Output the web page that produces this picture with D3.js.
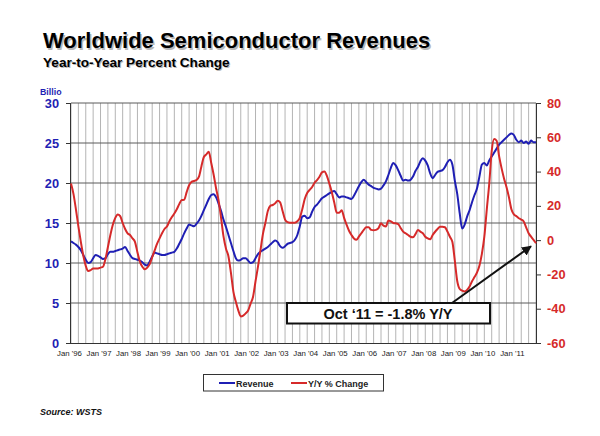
<!DOCTYPE html>
<html><head><meta charset="utf-8">
<script src="https://cdn.jsdelivr.net/npm/d3@7"></script>
<style>
html,body{margin:0;padding:0;background:#fff;}
svg{display:block;font-family:"Liberation Sans",Arial,sans-serif;}
</style></head>
<body>
<svg id="chart" width="600" height="436"></svg>
<script>
// ---------------- data ----------------
const startYear = 1996;
const monthsCount = 190; // Jan '96 .. Oct '11
const xTickLabels = ["Jan '96","Jan '97","Jan '98","Jan '99","Jan '00","Jan '01","Jan '02","Jan '03","Jan '04","Jan '05","Jan '06","Jan '07","Jan '08","Jan '09","Jan '10","Jan '11"];
const leftTicks = [0,5,10,15,20,25,30];
const rightTicks = [-60,-40,-20,0,20,40,60,80];
// Revenue, billions of $ (monthly)
const revenue = [
12.7,12.5,12.3,12.0,11.6,11.0,10.4,10.0,10.1,10.6,11.0,10.9,
10.7,10.5,10.6,11.1,11.4,11.4,11.5,11.6,11.7,11.8,12.0,11.5,
11.0,10.6,10.5,10.4,10.3,10.1,9.8,9.7,10.2,10.8,11.3,11.2,
11.1,11.0,11.0,11.1,11.2,11.3,11.4,11.8,12.4,13.0,13.7,14.3,
14.8,14.7,14.6,14.9,15.3,15.9,16.6,17.3,18.0,18.5,18.6,18.2,
17.4,16.5,15.4,14.5,13.5,12.5,11.5,10.6,10.3,10.4,10.6,10.6,
10.3,10.0,10.1,10.6,11.1,11.4,11.6,11.8,12.0,12.3,12.6,12.8,
12.6,12.1,11.9,12.1,12.4,12.5,12.6,12.9,13.5,14.6,15.8,15.9,
15.6,15.7,16.4,17.0,17.3,17.7,18.1,18.3,18.5,18.7,18.9,19.0,
18.6,18.2,18.3,18.3,18.2,18.1,18.0,18.4,19.0,19.6,20.1,20.4,
20.1,19.8,19.6,19.4,19.3,19.2,19.3,19.7,20.2,21.0,21.9,22.5,
22.2,21.6,20.9,20.3,20.4,20.3,20.4,20.8,21.5,22.0,22.7,23.1,
22.8,22.2,21.2,20.6,21.0,21.4,21.5,21.6,22.0,22.6,22.9,22.3,
20.3,18.6,16.2,14.3,14.8,15.8,16.6,17.6,18.5,19.3,20.8,22.3,
22.5,22.2,22.8,23.3,23.8,24.3,24.8,25.1,25.4,25.7,26.0,26.2,
26.0,25.4,25.1,25.3,25.0,25.2,24.9,25.3,25.1,25.1
];
// Year-to-year % change (monthly)
const yoyChange = [
33,27,18,8,-1,-9,-15,-18,-17.5,-16.5,-16.5,-16.5,
-16,-15.5,-11,-4,3,9,13,15,14,10,6.5,4,
3,1,-1,-7,-12.5,-15.5,-17,-16,-14,-10,-6,-2,
1,4,6.5,8,11,13.5,15.5,18,21,23.4,23.5,28,
32,34,34.5,35.1,37,43,48.5,50,51.6,45,38,30,
23,13,2,-5,-9.5,-19,-30,-36,-41,-44.5,-44,-42.7,
-41,-37,-33,-24,-15.5,-6,3.5,10,17,20,20.5,21.5,
23,22,17,12,10.5,10.2,10.2,10.2,11,13,18,24,
27.5,29.3,31,33.5,35,37,39.5,40,37.5,33,28,22,
16,16,17.5,13,9,5.5,3,1,0.2,2,4,6,
7.5,7.5,6,5.8,6,7,9.8,8.5,8,11.5,11,10,
9.8,9.4,7,5,4,3,2,1.7,3.5,5.9,5,4,
2,1,0.5,3,4.9,6.5,7.8,7.8,7.5,5,2,-1,
-12,-24,-28.5,-29.5,-30,-29,-27,-24,-21.5,-19,-15,-8,
2,18,33,52,59,58,49,42,36,31,25,18,
15,14,12.8,12,10.9,7.5,4,2,0.1,-1.8
];
const seriesNames = ["Revenue","Y/Y % Change"];
const titleText = "Worldwide Semiconductor Revenues";
const subtitleText = "Year-to-Year Percent Change";
const annotationText = "Oct \u201811 = -1.8% Y/Y";

// ---------------- layout ----------------
const svg = d3.select("#chart");
const L = 71, R = 536, T = 103, B = 343;
const blue = "#1f1fb4", red = "#d62a2a";
const x = d3.scaleLinear().domain([0, monthsCount - 1]).range([L, R]);
const yL = d3.scaleLinear().domain([0, 30]).range([B, T]);
const yR = d3.scaleLinear().domain([-60, 80]).range([B, T]);

// title with shadow
const tg = svg.append("g");
[[1.5,1.5,"#b8b8b8"],[0,0,"#000"]].forEach(([dx,dy,c])=>{
  tg.append("text").attr("x",43+dx).attr("y",48+dy).attr("font-size",22).attr("font-weight","bold").attr("fill",c).text(titleText);
  tg.append("text").attr("x",43+dx*0.7).attr("y",67+dy*0.7).attr("font-size",13.6).attr("font-weight","bold").attr("fill",c).text(subtitleText);
});

svg.append("text").attr("x",40).attr("y",95).attr("font-size",8.8).attr("font-weight","bold").attr("fill",blue).text("Billio");

// vertical grid (quarterly)
const vg = d3.range(0, monthsCount, 3);
svg.append("g").selectAll("line").data(vg).join("line")
  .attr("x1",d=>x(d)).attr("x2",d=>x(d)).attr("y1",T).attr("y2",B)
  .attr("stroke","#b4b4b4").attr("stroke-width",1);
// horizontal grid
svg.append("g").selectAll("line").data(leftTicks.filter(d=>d>0)).join("line")
  .attr("x1",L).attr("x2",R).attr("y1",d=>yL(d)).attr("y2",d=>yL(d))
  .attr("stroke","#5a5a5a").attr("stroke-width",1);

// left axis
const leftAxis = d3.axisLeft(yL).tickValues(leftTicks).tickFormat(d=>String(d)).tickSize(5).tickPadding(7);
const la = svg.append("g").attr("transform",`translate(${L},0)`).call(leftAxis);
la.select(".domain").attr("stroke","#333").attr("d",`M-0.5,${T}V${B}`);
la.selectAll(".tick line").attr("stroke","#333");
la.selectAll(".tick text").attr("font-size",12.8).attr("font-weight","bold").attr("fill",blue).attr("font-family","Liberation Sans, Arial, sans-serif");

// right axis
const rightAxis = d3.axisRight(yR).tickValues(rightTicks).tickFormat(d=>String(d)).tickSize(5).tickPadding(6);
const ra = svg.append("g").attr("transform",`translate(${R},0)`).call(rightAxis);
ra.select(".domain").attr("stroke","#333").attr("d",`M0.5,${T}V${B}`);
ra.selectAll(".tick line").attr("stroke","#333");
ra.selectAll(".tick text").attr("font-size",12.8).attr("font-weight","bold").attr("fill",red).attr("font-family","Liberation Sans, Arial, sans-serif");

// bottom axis
const xAxis = d3.axisBottom(x).tickValues(d3.range(0, 12*xTickLabels.length, 12)).tickFormat((d,i)=>xTickLabels[i]).tickSize(0).tickPadding(7);
const xa = svg.append("g").attr("transform",`translate(0,${B})`).call(xAxis);
xa.select(".domain").attr("stroke","#333").attr("d",`M${L-5},0.5H${R}`);
xa.selectAll(".tick text").attr("font-size",7.8).attr("fill","#1a1a1a").attr("font-family","Liberation Sans, Arial, sans-serif").attr("dx",-2);

// lines
const lineL = d3.line().x((d,i)=>x(i)).y(d=>yL(d)).curve(d3.curveMonotoneX);
const lineR = d3.line().x((d,i)=>x(i)).y(d=>yR(d)).curve(d3.curveMonotoneX);
svg.append("path").datum(revenue).attr("d",lineL).attr("fill","none").attr("stroke",blue).attr("stroke-width",2);
svg.append("path").datum(yoyChange).attr("d",lineR).attr("fill","none").attr("stroke",red).attr("stroke-width",2);

// annotation
const defs = svg.append("defs");
defs.append("marker").attr("id","ah").attr("viewBox","0 0 10 10").attr("refX",9).attr("refY",5)
  .attr("markerWidth",5).attr("markerHeight",5).attr("orient","auto")
  .append("path").attr("d","M0,0L10,5L0,10z").attr("fill","#111");
const lastI = monthsCount - 1;
svg.append("line").attr("x1",452).attr("y1",303).attr("x2",x(lastI)-5).attr("y2",yR(yoyChange[lastI])+3)
  .attr("stroke","#111").attr("stroke-width",2).attr("marker-end","url(#ah)");
svg.append("rect").attr("x",287).attr("y",303).attr("width",203).attr("height",20.5)
  .attr("fill","#fff").attr("stroke","#111").attr("stroke-width",2);
svg.append("text").attr("x",388).attr("y",318.5).attr("text-anchor","middle").attr("font-size",14.5).attr("font-weight","bold").attr("fill","#111").text(annotationText);

// legend
svg.append("rect").attr("x",203.5).attr("y",374.5).attr("width",180).attr("height",16.5).attr("fill","#fff").attr("stroke","#333").attr("stroke-width",1);
const lg = [[219, blue, seriesNames[0]], [291, red, seriesNames[1]]];
lg.forEach(([lx,c,t])=>{
  svg.append("line").attr("x1",lx).attr("x2",lx+16).attr("y1",383).attr("y2",383).attr("stroke",c).attr("stroke-width",2);
  svg.append("text").attr("x",lx+17).attr("y",386.5).attr("font-size",9).attr("font-weight","bold").attr("fill","#222").text(t);
});

svg.append("text").attr("x",40).attr("y",415).attr("font-size",9).attr("font-weight","bold").attr("font-style","italic").attr("fill","#111").text("Source: WSTS");
</script>
</body></html>
